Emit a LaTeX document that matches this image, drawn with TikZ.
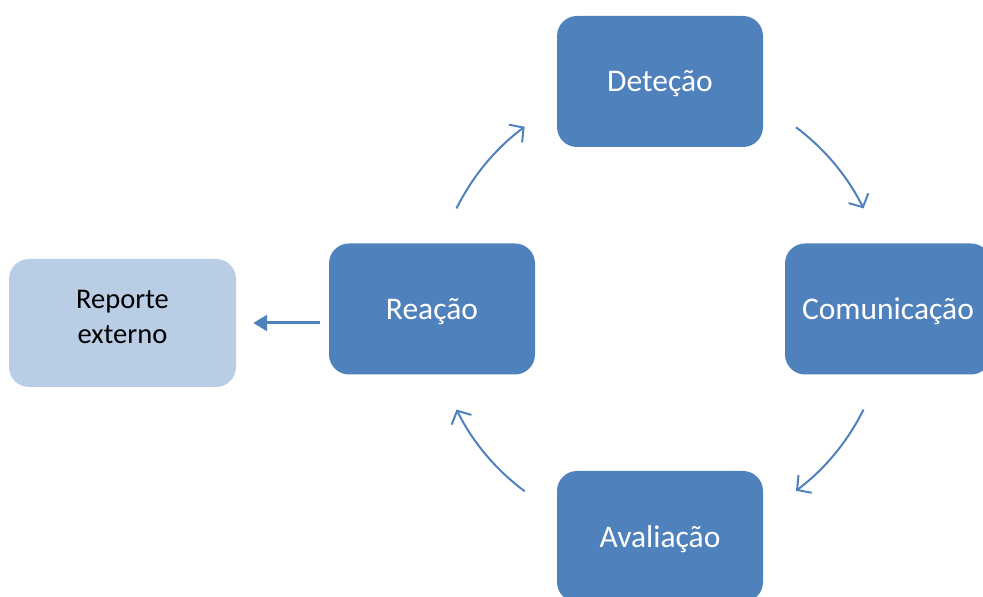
\documentclass[tikz,border=0pt]{standalone}
\usepackage{fontspec}
\setmainfont{Carlito}
\usetikzlibrary{arrows.meta,calc}
\definecolor{boxblue}{HTML}{4F81BD}
\definecolor{lightblue}{HTML}{B9CDE5}
\newcommand{\shiftdown}[1]{\raisebox{-2.5pt}[\height][\depth]{#1}}
\begin{document}
\begin{tikzpicture}[x=1pt,y=1pt,
  stagebox/.style={fill=boxblue, draw=none, rounded corners=20pt, minimum width=206pt, minimum height=131pt, text=white, font=\fontsize{31.5}{37}\selectfont, inner sep=0pt},
  extbox/.style={fill=lightblue, draw=none, rounded corners=20pt, minimum width=227pt, minimum height=128pt, text=black, font=\fontsize{28.5}{35}\selectfont, inner sep=0pt},
  cyc/.style={draw=boxblue, line width=2pt, -{Straight Barb[length=10pt,width=22pt,line width=2pt]}},
  outarrow/.style={draw=boxblue, line width=3pt, -{Triangle[length=14pt,width=16pt]}}
]
\useasboundingbox (0,0) rectangle (983,597);
\node[stagebox] (det) at (660,515.5) {\shiftdown{Deteção}};
\node[stagebox] (com) at (888,288) {\shiftdown{Comunicação}};
\node[stagebox] (rea) at (432,288) {\shiftdown{Reação}};
\node[stagebox] (ava) at (660,60.5) {\shiftdown{Avaliação}};
\node[extbox] (rep) at (122.5,274) {\raisebox{4pt}[\height][\depth]{\begin{tabular}{@{}c@{}}Reporte\\externo\end{tabular}}};
\coordinate (c) at (660,288);
\coordinate (a1) at ($(c)+(153.7:227)$);
\coordinate (a2) at ($(c)+(53.2:227)$);
\coordinate (a3) at ($(c)+(-26.3:227)$);
\coordinate (a4) at ($(c)+(-126.6:227)$);
\draw[cyc] (a1) arc[start angle=153.7, end angle=126.6, radius=227];
\draw[cyc] (a2) arc[start angle=53.2, end angle=26.3, radius=227];
\draw[cyc] (a3) arc[start angle=-26.3, end angle=-53.2, radius=227];
\draw[cyc] (a4) arc[start angle=-126.6, end angle=-153.7, radius=227];
\coordinate (s) at ($(rep.east)+(84,0)$);
\draw[outarrow] (s) -- ($(rep.east)+(17,0)$);
\end{tikzpicture}
\end{document}
